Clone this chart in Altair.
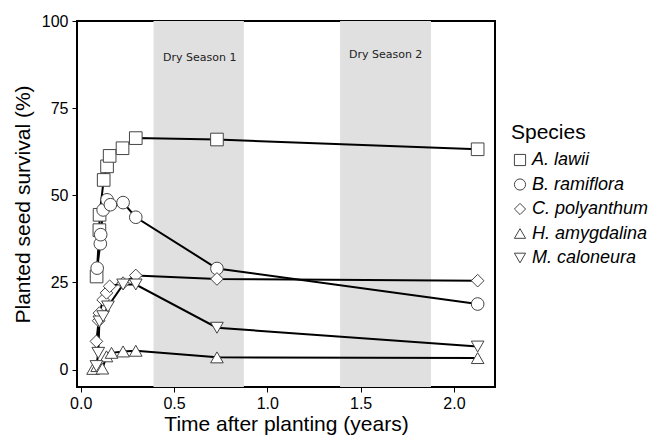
import altair as alt
import pandas as pd

species = ["A. lawii", "B. ramiflora", "C. polyanthum", "H. amygdalina", "M. caloneura"]

a_x = [0.085, 0.100, 0.101, 0.123, 0.141, 0.155, 0.224, 0.295, 0.730, 2.127]
a_y = [26.7, 40.0, 44.4, 54.4, 58.3, 61.3, 63.5, 66.4, 66.0, 63.2]

b_x = [0.088, 0.105, 0.107, 0.120, 0.141, 0.159, 0.227, 0.295, 0.730, 2.127]
b_y = [29.1, 36.1, 38.7, 45.8, 48.7, 47.3, 47.9, 43.7, 29.0, 18.8]

c_x = [0.084, 0.096, 0.100, 0.120, 0.138, 0.155, 0.227, 0.295, 0.730, 2.127]
c_y = [8.1, 14.0, 16.2, 20.0, 22.0, 23.9, 24.8, 27.0, 26.0, 25.5]

h_x = [0.066, 0.088, 0.116, 0.138, 0.165, 0.227, 0.295, 0.730, 2.127]
h_y = [0.2, 1.0, 0.3, 3.8, 4.8, 5.2, 5.4, 3.5, 3.3]

m_x = [0.084, 0.094, 0.100, 0.120, 0.146, 0.227, 0.295, 0.730, 2.127]
m_y = [1.0, 4.8, 13.8, 15.3, 18.1, 24.4, 24.4, 12.0, 6.6]

season_labels = ["Dry Season 1", "Dry Season 2"]
season_start = [0.39, 1.39]
season_end = [0.874, 1.877]
season_label_x = [0.638, 1.634]
season_label_y = [89.3, 90.3]

x_ticks = [0.0, 0.5, 1.0, 1.5, 2.0]
y_ticks = [0, 25, 50, 75, 100]

rows = []
for sp, xs, ys in zip(species, [a_x, b_x, c_x, h_x, m_x], [a_y, b_y, c_y, h_y, m_y]):
    for i, (xv, yv) in enumerate(zip(xs, ys)):
        rows.append({"species": sp, "time": xv, "survival": yv, "idx": i})
df = pd.DataFrame(rows)

bands = pd.DataFrame({
    "start": season_start, "end": season_end, "label": season_labels,
    "lx": season_label_x, "ly": season_label_y,
})

W, H = 418, 366
x_scale = alt.Scale(domain=[-0.02, 2.22], nice=False, zero=False)
y_scale = alt.Scale(domain=[-5, 100], nice=False, zero=False)
x_axis = alt.Axis(values=x_ticks, format=".1f", title="Time after planting (years)",
                  labelPadding=3, titlePadding=2)
y_axis = alt.Axis(values=y_ticks, format="d", title="Planted seed survival (%)",
                  labelPadding=4, titlePadding=8)

band_layer = alt.Chart(bands).mark_rect(color="#e0e0e0").encode(
    x=alt.X("start:Q", scale=x_scale, axis=x_axis),
    x2="end:Q",
    y=alt.value(0),
    y2=alt.value(H),
)

text_layer = alt.Chart(bands).mark_text(
    font="DejaVu Sans", fontSize=11, color="#222", baseline="middle", align="center"
).encode(
    x=alt.X("lx:Q", scale=x_scale, axis=x_axis),
    y=alt.Y("ly:Q", scale=y_scale, axis=y_axis),
    text="label:N",
)

line_layer = alt.Chart(df).mark_line(color="black", strokeWidth=2).encode(
    x=alt.X("time:Q", scale=x_scale, axis=x_axis),
    y=alt.Y("survival:Q", scale=y_scale, axis=y_axis),
    detail="species:N",
    order="idx:Q",
)

legend = alt.Legend(
    title="Species", orient="none", legendX=434, legendY=101,
    titleFont="Liberation Sans", titleFontSize=21, titleFontWeight="normal",
    titleColor="black", titlePadding=8,
    labelFont="Liberation Sans", labelFontSize=18, labelFontStyle="italic",
    labelColor="black", labelOffset=3,
    symbolStrokeWidth=1, symbolSize=125, rowPadding=6.5, symbolOpacity=1,
    symbolFillColor="white",
)

point_layer = alt.Chart(df).mark_point(
    filled=False, fill="white", strokeWidth=1, opacity=1, size=160
).encode(
    x=alt.X("time:Q", scale=x_scale, axis=x_axis),
    y=alt.Y("survival:Q", scale=y_scale, axis=y_axis),
    shape=alt.Shape(
        "species:N",
        scale=alt.Scale(domain=species,
                        range=["square", "circle", "diamond", "triangle-up", "triangle-down"]),
        legend=legend,
    ),
    stroke=alt.Stroke(
        "species:N",
        scale=alt.Scale(domain=species, range=["#444"] * 5),
        legend=legend,
    ),
)

chart = alt.layer(band_layer, text_layer, line_layer, point_layer).properties(
    width=W, height=H,
    autosize=alt.AutoSizeParams(type="none"),
    padding={"left": 77, "top": 21, "right": 166, "bottom": 48},
).configure_view(
    stroke="black", strokeWidth=2
).configure_axis(
    domain=False, grid=False, tickColor="black", tickSize=5, tickWidth=1,
    labelFont="Liberation Sans", labelFontSize=16, labelColor="black",
    titleFont="Liberation Sans", titleFontSize=21, titleFontWeight="normal", titleColor="black",
)

chart.save("out.html", embed_options={"renderer": "svg", "actions": False})
